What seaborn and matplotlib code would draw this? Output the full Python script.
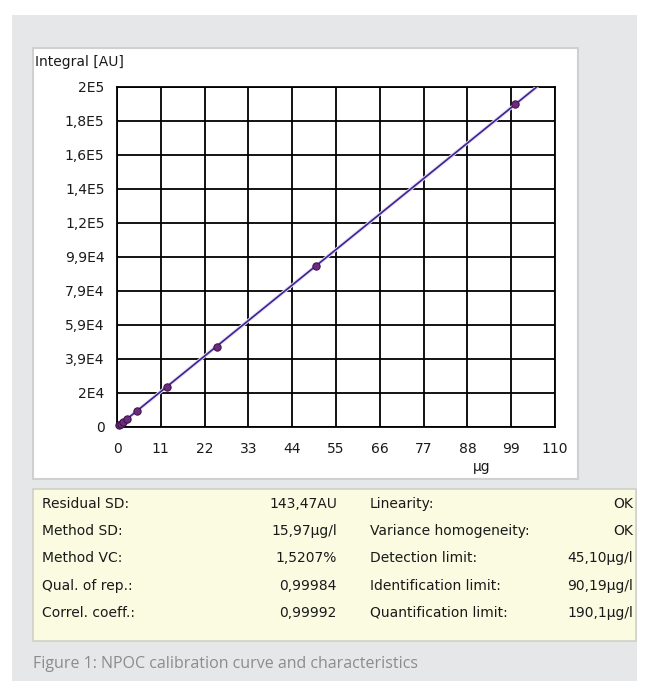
import numpy as np
import pandas as pd
import matplotlib
matplotlib.use("Agg")
import matplotlib.pyplot as plt
import seaborn as sns
from matplotlib.patches import Rectangle

# ---- data ----
amount_ug = [0.5, 1.0, 1.5, 2.5, 5.0, 12.5, 25.0, 50.0, 100.0]
integral_au = [1000, 1900, 2900, 4800, 9500, 23800, 47200, 94500, 190000]
x_ticks = [0, 11, 22, 33, 44, 55, 66, 77, 88, 99, 110]
y_tick_labels = ["0", "2E4", "3,9E4", "5,9E4", "7,9E4", "9,9E4",
                 "1,2E5", "1,4E5", "1,6E5", "1,8E5", "2E5"]
y_max = 200000
line_x_end = 105.5

stat_labels_left = ["Residual SD:", "Method SD:", "Method VC:", "Qual. of rep.:", "Correl. coeff.:"]
stat_values_left = ["143,47AU", "15,97µg/l", "1,5207%", "0,99984", "0,99992"]
stat_labels_right = ["Linearity:", "Variance homogeneity:", "Detection limit:",
                     "Identification limit:", "Quantification limit:"]
stat_values_right = ["OK", "OK", "45,10µg/l", "90,19µg/l", "190,1µg/l"]
caption = "Figure 1: NPOC calibration curve and characteristics"

sns.set_theme(style="white")
plt.rcParams['font.family'] = ['DejaVu Sans']

W, H = 648, 691
fig = plt.figure(figsize=(W / 100, H / 100), dpi=100)
fig.patch.set_facecolor("white")

def fx(px):
    return px / W

def fy(py):
    return 1 - py / H

def rect(x0, y0, x1, y1, fc, ec="none", lw=0, z=0):
    fig.patches.append(Rectangle((fx(x0), fy(y1)), fx(x1) - fx(x0), fy(y0) - fy(y1),
                                 transform=fig.transFigure, facecolor=fc, edgecolor=ec,
                                 linewidth=lw, zorder=z))

# grey panel, white chart box, yellow table
rect(12, 15, 637, 681, "#e6e7e9", z=-3)
rect(33, 48, 578, 479, "white", ec="#cfd0d2", lw=1.5, z=-2)
rect(33, 489, 636, 641, "#fafbe1", ec="#d0d0c8", lw=1.2, z=-2)

# axes
ax = fig.add_axes([fx(117), fy(427), fx(555) - fx(117), fy(87) - fy(427)])
ax.set_zorder(5)
ax.set_facecolor("white")

df = pd.DataFrame({"x": amount_ug, "y": integral_au})
slope, intercept = np.polyfit(df["x"], df["y"], 1)
fit_df = pd.DataFrame({"x": [0, line_x_end]})
fit_df["y"] = intercept + slope * fit_df["x"]

sns.lineplot(data=fit_df, x="x", y="y", ax=ax, color="#f4d4ee", linewidth=2.6, zorder=3)
sns.lineplot(data=fit_df, x="x", y="y", ax=ax, color="#2b2a96", linewidth=1.2, zorder=4)
sns.scatterplot(data=df, x="x", y="y", ax=ax, color="#6e2a80", edgecolor="#3a1040",
                s=28, linewidth=0.7, zorder=5, clip_on=False)

ax.set_xlim(0, 110)
ax.set_ylim(0, y_max)
ax.set_xticks(x_ticks)
ax.set_xticklabels([str(t) for t in x_ticks])
y_pos = np.linspace(0, y_max, len(y_tick_labels))
ax.set_yticks(y_pos)
ax.set_yticklabels(y_tick_labels)
ax.grid(True, color="black", linewidth=1.3)
ax.set_axisbelow(True)
for s in ax.spines.values():
    s.set_color("black")
    s.set_linewidth(1.3)
ax.tick_params(axis="both", direction="out", length=5, width=1.3, color="black",
               labelsize=10, labelcolor="#1a1a1a", pad=4)
ax.tick_params(axis="x", pad=6)
ax.set_xlabel("")
ax.set_ylabel("")

fig.text(fx(35), fy(62), "Integral [AU]", fontsize=10, color="#1a1a1a", va="center", ha="left")
fig.text(fx(482), fy(467), "µg", fontsize=10, color="#1a1a1a", va="center", ha="center")

rows_y = [504, 531, 558, 586, 613]
for i, yy in enumerate(rows_y):
    fig.text(fx(42), fy(yy), stat_labels_left[i], fontsize=10, color="#1a1a1a", va="center", ha="left")
    fig.text(fx(337), fy(yy), stat_values_left[i], fontsize=10, color="#1a1a1a", va="center", ha="right")
    fig.text(fx(370), fy(yy), stat_labels_right[i], fontsize=10, color="#1a1a1a", va="center", ha="left")
    fig.text(fx(633), fy(yy), stat_values_right[i], fontsize=10, color="#1a1a1a", va="center", ha="right")

fig.text(fx(33), fy(664), caption, fontsize=11.5, color="#8a8c8e", va="center", ha="left",
         family=["Open Sans", "DejaVu Sans"])

fig.savefig("out.png", dpi=100, facecolor="white")
